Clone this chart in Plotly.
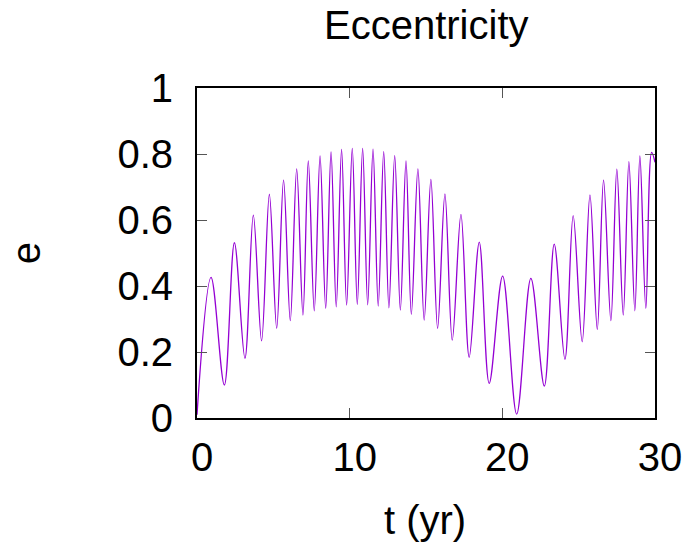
import plotly.graph_objects as go

# Eccentricity history: successive maxima and minima of e(t)
t_peak = [0.92, 2.45, 3.69, 4.74, 5.67, 6.53, 7.29, 8.06, 8.78, 9.47, 10.17,
          10.85, 11.53, 12.23, 12.95, 13.69, 14.47, 15.32, 16.24, 17.29, 18.49,
          20.02, 21.87, 23.40, 24.64, 25.74, 26.63, 27.50, 28.29, 29.01, 29.78]
e_peak = [0.426, 0.531, 0.615, 0.678, 0.721, 0.755, 0.779, 0.794, 0.806, 0.814,
          0.817, 0.817, 0.815, 0.807, 0.795, 0.779, 0.755, 0.723, 0.679, 0.617,
          0.533, 0.430, 0.423, 0.527, 0.613, 0.676, 0.721, 0.754, 0.777, 0.794,
          0.805]
t_trough = [1.79, 3.14, 4.23, 5.22, 6.11, 6.94, 7.68, 8.43, 9.12, 9.80, 10.50,
            11.18, 11.87, 12.57, 13.32, 14.04, 14.88, 15.76, 16.72, 17.83, 19.14,
            20.94, 22.75, 24.10, 25.23, 26.22, 27.11, 27.92, 28.68, 29.40]
e_trough = [0.100, 0.181, 0.234, 0.272, 0.295, 0.312, 0.325, 0.332, 0.337, 0.342,
            0.344, 0.343, 0.339, 0.334, 0.327, 0.314, 0.297, 0.272, 0.236, 0.184,
            0.105, 0.012, 0.097, 0.178, 0.231, 0.269, 0.295, 0.312, 0.325, 0.332]
# first and last samples of the run
t_ends = [0.0, 30.0]
e_ends = [0.010, 0.775]

x_ticks = [0, 10, 20, 30]
y_ticks = [0, 0.2, 0.4, 0.6, 0.8, 1]
y_tick_text = ["0", "0.2", "0.4", "0.6", "0.8", "1"]

pts = sorted(zip(t_peak + t_trough + t_ends, e_peak + e_trough + e_ends))
t_all = [p[0] for p in pts]
e_all = [p[1] for p in pts]

FONT = "Liberation Sans, Arial, Helvetica, sans-serif"
FS = 40

fig = go.Figure()
fig.add_trace(go.Scatter(
    x=t_all, y=e_all, mode="lines",
    line=dict(color="#9400D3", width=1.3, shape="spline", smoothing=1.0),
    hoverinfo="skip", showlegend=False,
))

axis_common = dict(
    showgrid=False, zeroline=False, automargin=False,
    showline=True, linecolor="black", linewidth=2, mirror="ticks",
    ticks="inside", ticklen=10, tickwidth=1, tickcolor="#555555",
    tickfont=dict(family=FONT, size=FS, color="black"),
)

fig.update_layout(
    width=686, height=546,
    margin=dict(l=197, r=31, t=88, b=128),
    paper_bgcolor="white", plot_bgcolor="white",
    font=dict(family=FONT, color="black"),
    xaxis=dict(range=[0, 30], tickvals=x_ticks, ticklabelstandoff=3,
               ticklabelshift=5, **axis_common),
    yaxis=dict(range=[0, 1], tickvals=y_ticks, ticktext=y_tick_text,
               ticklabelstandoff=14, **axis_common),
    annotations=[
        dict(text="Eccentricity", xref="paper", yref="paper", x=0.5, y=1.19,
             xanchor="center", yanchor="middle", showarrow=False,
             font=dict(family=FONT, size=FS, color="black")),
        dict(text="t (yr)", xref="paper", yref="paper", x=0.498, y=-0.309,
             xanchor="center", yanchor="middle", showarrow=False,
             font=dict(family=FONT, size=FS, color="black")),
        dict(text="e", xref="paper", yref="paper", x=-0.373, y=0.5,
             xanchor="center", yanchor="middle", showarrow=False, textangle=-90,
             font=dict(family=FONT, size=FS, color="black")),
    ],
)

fig.write_html("out.html")
